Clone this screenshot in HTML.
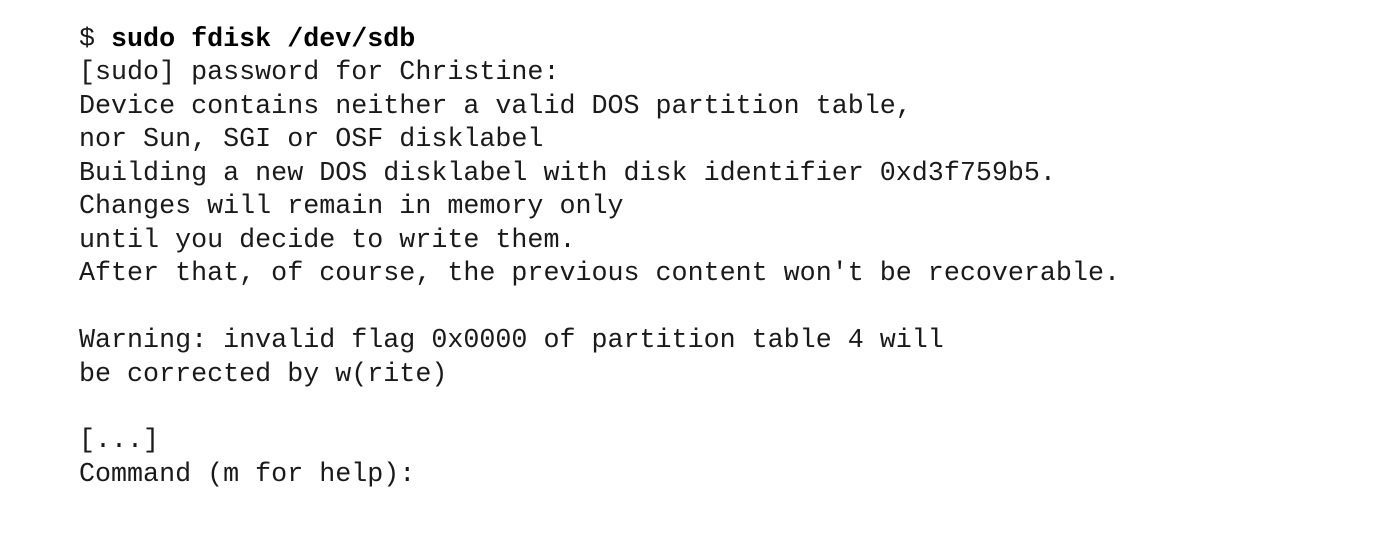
<!DOCTYPE html>
<html><head><meta charset="utf-8"><style>
html,body{margin:0;padding:0;background:#fff;width:1395px;height:539px;overflow:hidden}
pre{position:absolute;left:79px;top:24px;margin:0;font-family:"Liberation Mono",monospace;font-size:26.7px;line-height:33.45px;color:#1a1a1a}
b{color:#000}
</style></head><body>
<pre>$ <b>sudo fdisk /dev/sdb</b>
[sudo] password for Christine:
Device contains neither a valid DOS partition table,
nor Sun, SGI or OSF disklabel
Building a new DOS disklabel with disk identifier 0xd3f759b5.
Changes will remain in memory only
until you decide to write them.
After that, of course, the previous content won't be recoverable.

Warning: invalid flag 0x0000 of partition table 4 will
be corrected by w(rite)

[...]
Command (m for help):</pre>
</body></html>
